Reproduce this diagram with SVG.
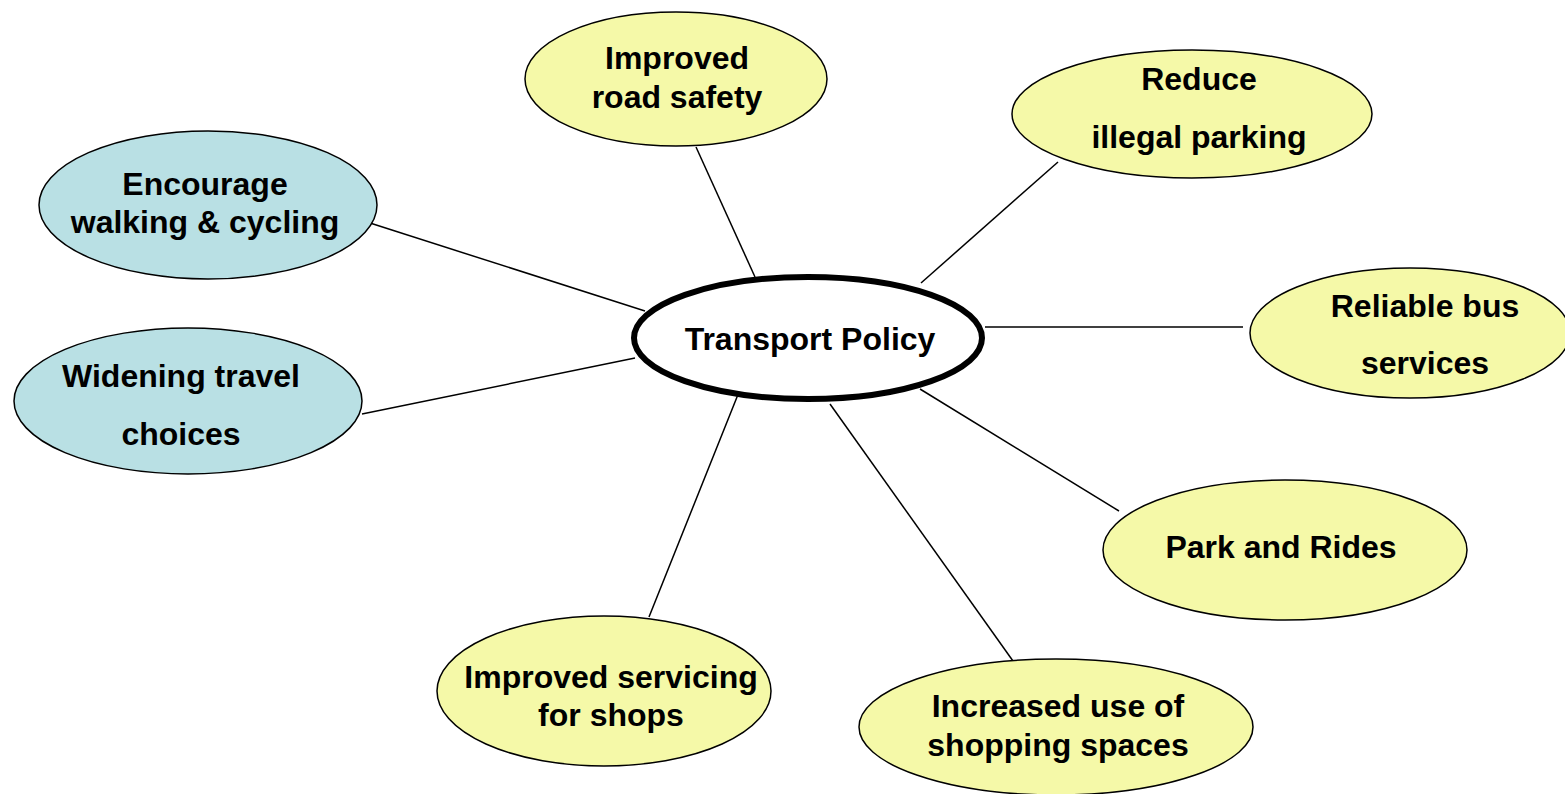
<svg xmlns="http://www.w3.org/2000/svg" width="1565" height="794" viewBox="0 0 1565 794">
<style>
.y{fill:#f5f9a8;stroke:#000;stroke-width:1.5}
.b{fill:#b9e0e4;stroke:#000;stroke-width:1.5}
.c{fill:#fff;stroke:#000;stroke-width:6}
.t{font-family:"Liberation Sans",Arial,sans-serif;font-weight:bold;font-size:32px;text-anchor:middle;fill:#000}
.l{stroke:#000;stroke-width:1.5;fill:none}
</style>
<rect width="1565" height="794" fill="#fff"/>
<g id="connectors">
<line class="l" x1="696" y1="147" x2="755" y2="277"/>
<line class="l" x1="1058" y1="162" x2="921" y2="283"/>
<line class="l" x1="985" y1="327" x2="1243" y2="327"/>
<line class="l" x1="920" y1="389" x2="1119" y2="511"/>
<line class="l" x1="830" y1="404" x2="1013" y2="661"/>
<line class="l" x1="741" y1="387" x2="649" y2="617"/>
<line class="l" x1="635" y1="358" x2="362" y2="414"/>
<line class="l" x1="645" y1="311" x2="370" y2="223"/>
</g>
<g id="road-safety"><ellipse class="y" cx="676" cy="79" rx="151" ry="67"/><text class="t" x="677" y="69">Improved</text><text class="t" x="677" y="108">road safety</text></g>
<g id="illegal-parking"><ellipse class="y" cx="1192" cy="114" rx="180" ry="64"/><text class="t" x="1199" y="90">Reduce</text><text class="t" x="1199" y="148">illegal parking</text></g>
<g id="walking-cycling"><ellipse class="b" cx="208" cy="205" rx="169" ry="74"/><text class="t" x="205" y="195">Encourage</text><text class="t" x="205" y="233">walking &amp; cycling</text></g>
<g id="travel-choices"><ellipse class="b" cx="188" cy="401" rx="174" ry="73"/><text class="t" x="181" y="387">Widening travel</text><text class="t" x="181" y="445">choices</text></g>
<g id="bus-services"><ellipse class="y" cx="1410" cy="333" rx="160" ry="65"/><text class="t" x="1425" y="317">Reliable bus</text><text class="t" x="1425" y="374">services</text></g>
<g id="park-rides"><ellipse class="y" cx="1285" cy="550" rx="182" ry="70"/><text class="t" x="1281" y="558">Park and Rides</text></g>
<g id="shopping-spaces"><ellipse class="y" cx="1056" cy="727" rx="197" ry="68"/><text class="t" x="1058" y="717">Increased use of</text><text class="t" x="1058" y="756">shopping spaces</text></g>
<g id="servicing-shops"><ellipse class="y" cx="604" cy="691" rx="167" ry="75"/><text class="t" x="611" y="688">Improved servicing</text><text class="t" x="611" y="726">for shops</text></g>
<g id="transport-policy"><ellipse class="c" cx="808" cy="338" rx="174" ry="61"/><text class="t" x="810" y="350">Transport Policy</text></g>
</svg>
